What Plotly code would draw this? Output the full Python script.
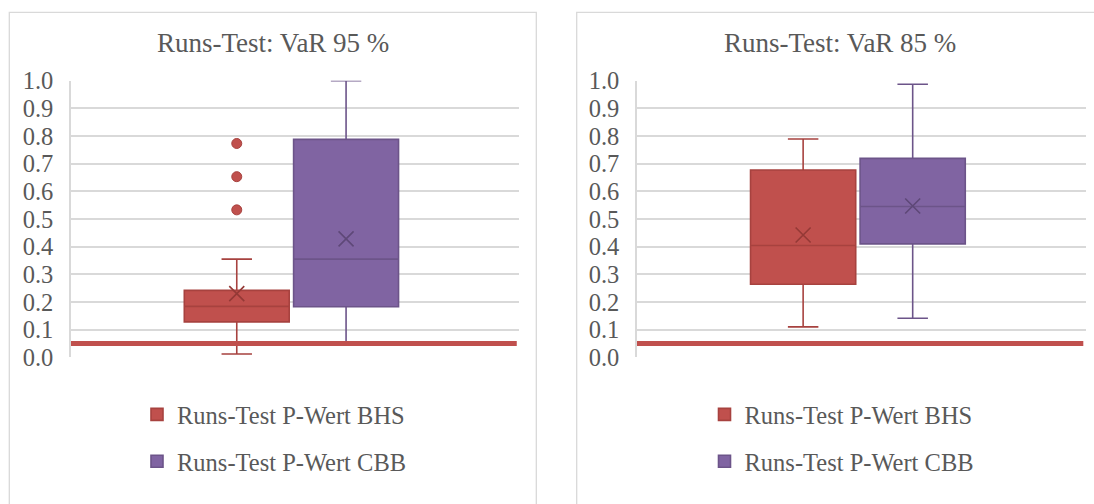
import plotly.graph_objects as go

# Canvas size in pixels
W, H = 1094, 504

# Shared category, series names and panel titles
CATEGORY = "P-Wert"
SERIES = ["Runs-Test P-Wert BHS", "Runs-Test P-Wert CBB"]
PANEL_TITLES = ["Runs-Test: VaR 95 %", "Runs-Test: VaR 85 %"]
ALPHA = 0.05  # significance level drawn as a horizontal reference line
Y_TICKS = [0.0, 0.1, 0.2, 0.3, 0.4, 0.5, 0.6, 0.7, 0.8, 0.9, 1.0]

# VaR 95 %: box statistics per series (BHS, CBB)
lower_95 = [0.012, 0.055]
q1_95 = [0.128, 0.183]
median_95 = [0.184, 0.355]
q3_95 = [0.242, 0.788]
upper_95 = [0.355, 1.000]
mean_95 = [0.230, 0.428]
outliers_95 = [[0.533, 0.653, 0.773], []]

# VaR 85 %: box statistics per series (BHS, CBB)
lower_85 = [0.110, 0.141]
q1_85 = [0.264, 0.410]
median_85 = [0.404, 0.545]
q3_85 = [0.677, 0.719]
upper_85 = [0.789, 0.987]
mean_85 = [0.442, 0.547]
outliers_85 = [[], []]

# Styling
FILL = ["#c0504d", "#8064a2"]
EDGE = ["#a7423f", "#6c5489"]
MEAN_COLOR = ["#943936", "#5e4878"]
GRID = "#d9d9d9"
TEXT = "#595959"
FONT = "Liberation Serif"


def fx(p):
    return p / W


def fy(p):
    return 1 - p / H


panels = [
    dict(lower=lower_95, q1=q1_95, med=median_95, q3=q3_95, upper=upper_95,
         mean=mean_95, out=outliers_95),
    dict(lower=lower_85, q1=q1_85, med=median_85, q3=q3_85, upper=upper_85,
         mean=mean_85, out=outliers_85),
]

fig = go.Figure()

for p, panel in enumerate(panels):
    xa = "x" if p == 0 else "x2"
    ya = "y" if p == 0 else "y2"
    lg = "legend" if p == 0 else "legend2"
    grp = f"panel{p}"
    for i, name in enumerate(SERIES):
        fig.add_trace(go.Box(
            name=name,
            x=[CATEGORY],
            q1=[panel["q1"][i]],
            median=[panel["med"][i]],
            q3=[panel["q3"][i]],
            lowerfence=[panel["lower"][i]],
            upperfence=[panel["upper"][i]],
            fillcolor=FILL[i],
            line=dict(color=EDGE[i], width=1.6),
            whiskerwidth=0.29,
            boxpoints=False,
            xaxis=xa, yaxis=ya,
            alignmentgroup=grp, offsetgroup=str(i),
            legend=lg,
            legendgroup=f"{p}-{i}",
            hoverinfo="skip",
        ))
    # mean markers (x) beside each box
    for i, name in enumerate(SERIES):
        fig.add_trace(go.Scatter(
            name=name,
            x=[CATEGORY],
            y=[panel["mean"][i]],
            mode="markers",
            marker=dict(symbol="x-thin-open", size=15, color=MEAN_COLOR[i],
                        line=dict(color=MEAN_COLOR[i], width=1.6)),
            showlegend=False,
            xaxis=xa, yaxis=ya,
            alignmentgroup=grp, offsetgroup=str(i),
            hoverinfo="skip",
        ))
    # outlier dots
    for i, name in enumerate(SERIES):
        out = panel["out"][i]
        if not out:
            continue
        fig.add_trace(go.Scatter(
            name=name,
            x=[CATEGORY] * len(out),
            y=out,
            mode="markers",
            marker=dict(symbol="circle", size=10, color=FILL[i],
                        line=dict(color=EDGE[i], width=1)),
            showlegend=False,
            xaxis=xa, yaxis=ya,
            alignmentgroup=grp, offsetgroup=str(i),
            hoverinfo="skip",
        ))

yaxis_style = dict(
    range=[0, 1.0],
    tickvals=Y_TICKS,
    tickformat=".1f",
    showgrid=True, gridcolor=GRID, gridwidth=1.8,
    showline=True, linecolor=GRID, linewidth=1.5,
    zeroline=False,
    tickfont=dict(family=FONT, size=24.5, color=TEXT),
    ticklabelstandoff=11,
    automargin=False,
    domain=[fy(357.3), fy(80.7)],
    fixedrange=True,
)
xaxis_style = dict(
    type="category",
    range=[-0.492, 0.508],
    showticklabels=False, showgrid=False, zeroline=False, showline=False,
    automargin=False,
    fixedrange=True,
)

legend_style = dict(
    xanchor="left", yanchor="top",
    y=fy(392),
    font=dict(family=FONT, size=24.5, color=TEXT),
    bgcolor="rgba(0,0,0,0)",
    tracegroupgap=12,
    itemclick=False, itemdoubleclick=False,
)

shapes = [
    # panel frames
    dict(type="rect", xref="paper", yref="paper",
         x0=fx(9.3), x1=fx(536.3), y0=-0.1, y1=fy(12.3),
         line=dict(color=GRID, width=1.3), layer="below"),
    dict(type="rect", xref="paper", yref="paper",
         x0=fx(576.7), x1=1.1, y0=-0.1, y1=fy(12.3),
         line=dict(color=GRID, width=1.3), layer="below"),
    # significance level lines
    dict(type="line", xref="x domain", yref="y", x0=0, x1=0.995,
         y0=ALPHA, y1=ALPHA, line=dict(color=FILL[0], width=5), layer="above"),
    dict(type="line", xref="x2 domain", yref="y2", x0=0, x1=0.994,
         y0=ALPHA, y1=ALPHA, line=dict(color=FILL[0], width=5), layer="above"),
]

annotations = [
    dict(text=PANEL_TITLES[0], xref="paper", yref="paper",
         x=fx(272.8), y=fy(42.5), xanchor="center", yanchor="middle",
         showarrow=False, font=dict(family=FONT, size=27, color=TEXT)),
    dict(text=PANEL_TITLES[1], xref="paper", yref="paper",
         x=fx(840), y=fy(42.5), xanchor="center", yanchor="middle",
         showarrow=False, font=dict(family=FONT, size=27, color=TEXT)),
]

fig.update_layout(
    width=W, height=H,
    margin=dict(l=0, r=0, t=0, b=0, pad=0),
    paper_bgcolor="white", plot_bgcolor="white",
    font=dict(family=FONT, color=TEXT),
    boxmode="group", boxgap=0.512, boxgroupgap=0.04,
    scattermode="group", scattergap=0.512,
    xaxis=dict(domain=[fx(71), fx(519)], anchor="y", **xaxis_style),
    yaxis=dict(anchor="x", **yaxis_style),
    xaxis2=dict(domain=[fx(637), fx(1086)], anchor="y2", **xaxis_style),
    yaxis2=dict(anchor="x2", **yaxis_style),
    legend=dict(x=fx(137), **legend_style),
    legend2=dict(x=fx(704.5), **legend_style),
    shapes=shapes,
    annotations=annotations,
    hovermode=False,
)

fig.write_html("out.html")
